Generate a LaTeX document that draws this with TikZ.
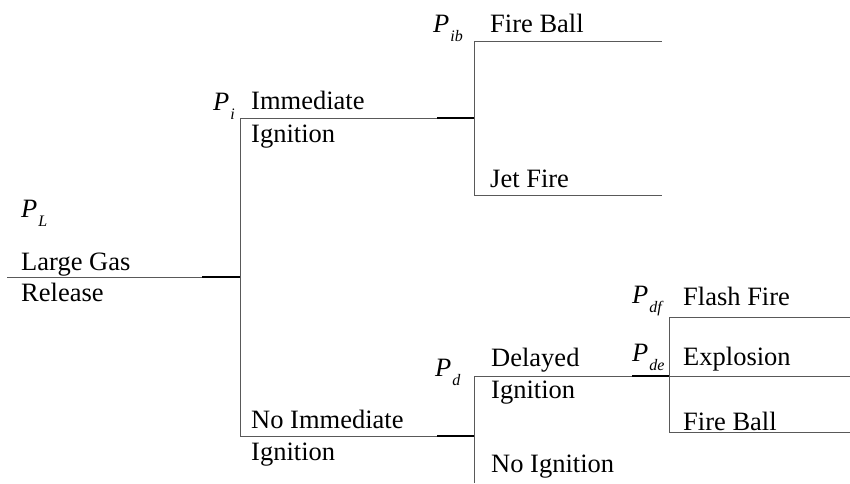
\documentclass[tikz,border=0pt]{standalone}
\usepackage{fontspec}
\setmainfont{Liberation Serif}
\newcommand{\prob}[1]{{\itshape P}\kern1pt\raisebox{-9pt}{\fontsize{16}{16}\selectfont\itshape #1}}
\tikzset{
  branch/.style={line width=0.9pt,black!65},
  stub/.style={line width=1.7pt,black},
  lbl/.style={anchor=base west,inner sep=0pt,font=\fontsize{26.5}{30}\selectfont}
}
\begin{document}
\begin{tikzpicture}[x=1pt,y=-1pt]
\useasboundingbox (0,0) rectangle (850,483);
% branch points
\coordinate (rs) at (7,277);
\coordinate (rj) at (240,277);
\coordinate (it) at (240,118);
\coordinate (ib) at (240,436);
\coordinate (ij) at (474,118);
\coordinate (ft) at (474,41);
\coordinate (jb) at (474,195);
\coordinate (fe) at (662,41);
\coordinate (je) at (662,195);
\coordinate (nj) at (474,436);
\coordinate (dt) at (474,376);
\coordinate (db) at (474,483);
\coordinate (dj) at (669,376);
\coordinate (xt) at (669,317);
\coordinate (xb) at (669,432);
\coordinate (xte) at (850,317);
\coordinate (xme) at (850,376);
\coordinate (xbe) at (850,432);
% lines
\draw[branch] (rs) -- (rj);
\draw[branch] (it) -- (ib);
\draw[branch] (it) -- (ij);
\draw[branch] (ft) -- (jb);
\draw[branch] (ft) -- (fe);
\draw[branch] (jb) -- (je);
\draw[branch] (ib) -- (nj);
\draw[branch] (dt) -- (db);
\draw[branch] (dt) -- (dj);
\draw[branch] (xt) -- (xb);
\draw[branch] (xt) -- (xte);
\draw[branch] (dj) -- (xme);
\draw[branch] (xb) -- (xbe);
\draw[stub] (rj) -- ++(-38,0);
\draw[stub] (ij) -- ++(-37,0);
\draw[stub] (nj) -- ++(-37,0);
\draw[stub] (dj) -- ++(-37,0);
% labels
\node[lbl] (pl) at (21,217) {\prob{L}};
\node[lbl] (lg) at (21,270) {Large Gas};
\node[lbl] (rl) at (21,301) {Release};
\node[lbl] (pi) at (213,110) {\prob{i}};
\node[lbl] (im) at (251,109) {Immediate};
\node[lbl] (ig) at (251,142) {Ignition};
\node[lbl] (pib) at (433,32) {\prob{ib}};
\node[lbl] (fb) at (490,32) {Fire Ball};
\node[lbl] (jf) at (490,187) {Jet Fire};
\node[lbl] (ni) at (251,428) {No Immediate};
\node[lbl] (nig) at (251,460) {Ignition};
\node[lbl] (pd) at (435,376) {\prob{d}};
\node[lbl] (dl) at (491,366) {Delayed};
\node[lbl] (dig) at (491,398) {Ignition};
\node[lbl] (no) at (491,472) {No Ignition};
\node[lbl] (pdf) at (632,303) {\prob{df}};
\node[lbl] (ff) at (683,305) {Flash Fire};
\node[lbl] (pde) at (632,361) {\prob{de}};
\node[lbl] (ex) at (683,365) {Explosion};
\node[lbl] (fb2) at (683,430) {Fire Ball};
\end{tikzpicture}
\end{document}
